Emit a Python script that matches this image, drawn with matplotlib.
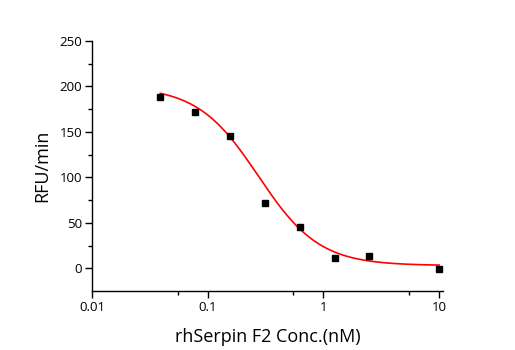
import numpy as np
import matplotlib
matplotlib.use("Agg")
import matplotlib.pyplot as plt
from matplotlib.ticker import FixedLocator, NullFormatter, FixedFormatter

# Data
conc = [0.039, 0.078, 0.156, 0.3125, 0.625, 1.25, 2.5, 10.0]
rfu = [188, 172, 145, 72, 45, 11, 13, -1]
# 4PL fit parameters
fit_top = 200.0
fit_bottom = 3.0
fit_ec50 = 0.274
fit_hill = 1.65

x_ticks = [0.01, 0.1, 1, 10]
x_ticklabels = ["0.01", "0.1", "1", "10"]
x_minor = [0.055, 0.55, 5.5]
y_ticks = [0, 50, 100, 150, 200, 250]

plt.rcParams['font.family'] = ['Open Sans', 'DejaVu Sans']

fig = plt.figure(figsize=(5.15, 3.5), dpi=100)
ax = fig.add_axes([92/515, 1-291/350, (443-92)/515, (291-41)/350])

xf = np.logspace(np.log10(conc[0]), np.log10(conc[-1]), 300)
yf = fit_bottom + (fit_top - fit_bottom) / (1 + (xf / fit_ec50) ** fit_hill)
ax.plot(xf, yf, color='#ff0000', lw=1.2, zorder=2)
ax.plot(conc, rfu, 's', color='black', ms=5, zorder=3)

ax.set_xscale('log')
ax.set_xlim(0.01, 10 ** ((443-92)/115.7 - 2))
ax.set_ylim(-25, 250)
ax.xaxis.set_major_locator(FixedLocator(x_ticks))
ax.xaxis.set_major_formatter(FixedFormatter(x_ticklabels))
ax.xaxis.set_minor_locator(FixedLocator(x_minor))
ax.xaxis.set_minor_formatter(NullFormatter())
ax.yaxis.set_major_locator(FixedLocator(y_ticks))
ax.yaxis.set_minor_locator(FixedLocator([25, 75, 125, 175, 225]))

for s in ['top', 'right']:
    ax.spines[s].set_visible(False)
for s in ['left', 'bottom']:
    ax.spines[s].set_linewidth(1.0)
ax.tick_params(which='major', direction='out', length=5, width=1, labelsize=9.5, pad=2)
ax.tick_params(which='minor', direction='out', length=3, width=1)

ax.set_xlabel("rhSerpin F2 Conc.(nM)", fontsize=13, labelpad=10)
ax.set_ylabel("RFU/min", fontsize=13, labelpad=6)

fig.savefig("out.png", dpi=100)
